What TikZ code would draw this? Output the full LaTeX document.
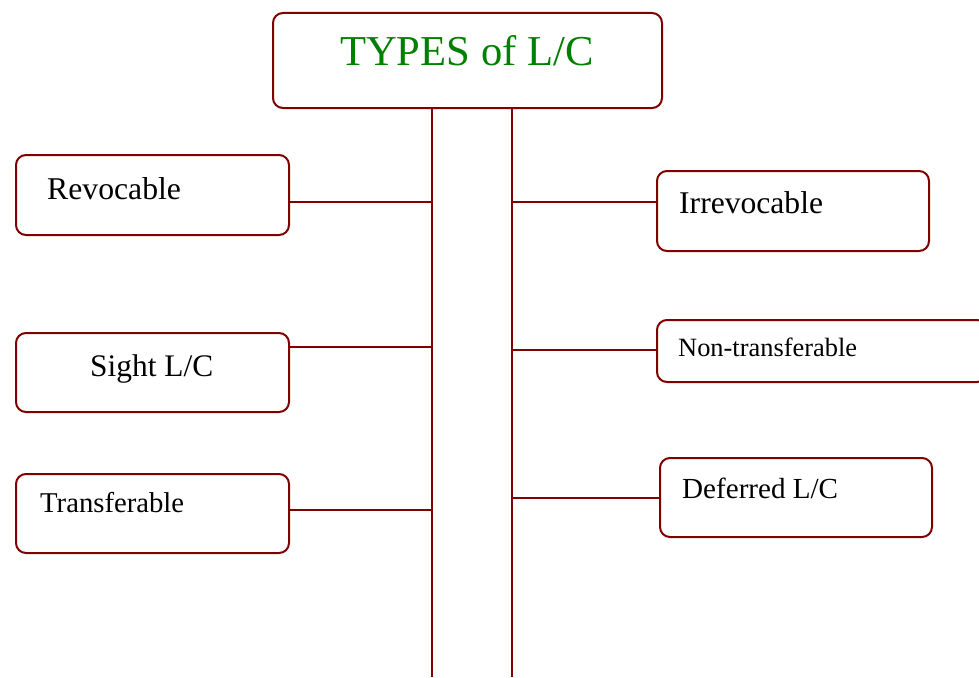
\documentclass[tikz,border=0pt]{standalone}
\usepackage{fontspec}
\setmainfont{Liberation Serif}
\definecolor{boxred}{RGB}{128,0,0}
\definecolor{titlegreen}{RGB}{0,128,0}
\tikzset{
  tbox/.style={draw=boxred, line width=2pt, rounded corners=10pt, fill=white},
  link/.style={draw=boxred, line width=2pt},
  lbl/.style={anchor=base west, inner sep=0pt, text=black},
}
\newcommand{\mybox}[5]{% name, x1, y1, x2, y2
  \path[tbox] (#2,#3) rectangle (#4,#5);
  \coordinate (#1-e) at (#4,{(#3+#5)/2});
  \coordinate (#1-w) at (#2,{(#3+#5)/2});
}
\begin{document}
\begin{tikzpicture}[x=1pt,y=-1pt]
\useasboundingbox (0,0) rectangle (979,677);
% title box
\node[tbox, anchor=north west, minimum width=389pt, minimum height=95pt] (title) at (272,12) {};
\node[lbl, text=titlegreen, font=\fontsize{42.6}{50}\selectfont] (titletext) at (340,66) {TYPES of L/C};
% vertical trunk
\coordinate (vlt) at (432,107);
\coordinate (vlb) at (432,677);
\coordinate (vrt) at (512,107);
\coordinate (vrb) at (512,677);
\draw[link] (vlt) -- (vlb);
\draw[link] (vrt) -- (vrb);
% left boxes
\node[tbox, anchor=north west, minimum width=273pt, minimum height=80pt] (rev) at (15,154) {};
\node[lbl, font=\fontsize{31.7}{38}\selectfont] (revt) at (47,199) {Revocable};
\node[tbox, anchor=north west, minimum width=273pt, minimum height=79pt] (sight) at (15,332) {};
\node[lbl, font=\fontsize{31.4}{38}\selectfont] (sightt) at (90,376) {Sight L/C};
\node[tbox, anchor=north west, minimum width=273pt, minimum height=79pt] (trans) at (15,473) {};
\node[lbl, font=\fontsize{28.7}{34}\selectfont] (transt) at (40,512) {Transferable};
% right boxes
\node[tbox, anchor=north west, minimum width=272pt, minimum height=80pt] (irr) at (656,170) {};
\node[lbl, font=\fontsize{31.6}{38}\selectfont] (irrt) at (679,213) {Irrevocable};
\node[tbox, anchor=north west, minimum width=330pt, minimum height=62pt] (nont) at (656,319) {};
\node[lbl, font=\fontsize{26.4}{32}\selectfont] (nontt) at (678,356) {Non-transferable};
\node[tbox, anchor=north west, minimum width=272pt, minimum height=79pt] (def) at (659,457) {};
\node[lbl, font=\fontsize{29.1}{35}\selectfont] (deft) at (682,498) {Deferred L/C};
% connectors
\coordinate (c1) at (432,202);
\coordinate (c2) at (432,347);
\coordinate (c3) at (432,510);
\coordinate (c4) at (512,202);
\coordinate (c5) at (512,350);
\coordinate (c6) at (512,498);
\draw[link] (c1 -| rev.east) -- (c1);
\draw[link] (c2 -| sight.east) -- (c2);
\draw[link] (c3 -| trans.east) -- (c3);
\draw[link] (c4) -- (c4 -| irr.west);
\draw[link] (c5) -- (c5 -| nont.west);
\draw[link] (c6) -- (c6 -| def.west);
\end{tikzpicture}
\end{document}
